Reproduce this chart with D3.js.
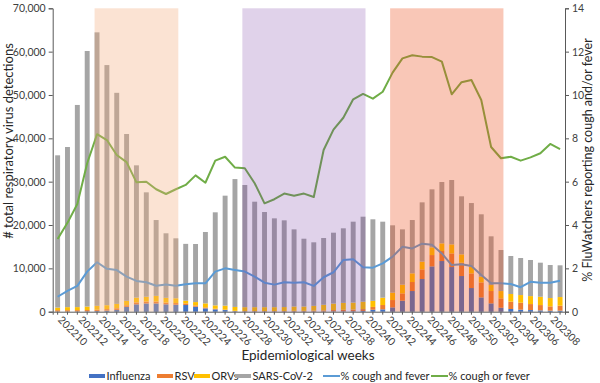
<!DOCTYPE html>
<html><head><meta charset="utf-8">
<script src="https://cdn.jsdelivr.net/npm/d3@7"></script>
<style>
body{margin:0;background:#fff;}
svg{display:block;font-family:Lato,"Open Sans",sans-serif;}
</style></head>
<body><svg id="c" width="600" height="383"></svg>
<script>
// ---------- DATA ----------
const weeks = [
 "202210","202211","202212","202213","202214","202215","202216","202217","202218","202219",
 "202220","202221","202222","202223","202224","202225","202226","202227","202228","202229",
 "202230","202231","202232","202233","202234","202235","202236","202237","202238","202239",
 "202240","202241","202242","202243","202244","202245","202246","202247","202248","202249",
 "202250","202251","202252","202301","202302","202303","202304","202305","202306","202307",
 "202308","202309"];
const tickLabels = ["202210","202212","202214","202216","202218","202220","202222","202224","202226",
 "202228","202230","202232","202234","202236","202238","202240","202242","202244","202246","202248",
 "202250","202302","202304","202306","202308"];
const influenza = [50,50,60,80,150,250,400,1100,1700,1900,1900,1700,1600,1540,1150,770,540,380,100,50,
 50,50,50,50,50,50,50,50,80,80,100,150,450,540,1000,2540,4770,7540,10460,11690,
 10300,8230,5460,3300,1920,920,620,460,380,300,230,230];
const rsv = [300,300,300,300,300,350,400,400,450,450,450,400,400,380,300,230,150,100,100,100,
 100,100,100,120,150,150,200,250,300,350,400,450,650,1000,1690,1690,2080,2230,2610,2310,
 3150,3080,3380,3460,2850,2150,1690,1610,1380,1230,1000,1150];
const orvs = [600,700,700,800,900,900,1000,1000,1100,1100,1300,1100,1100,620,770,920,770,920,900,900,
 900,900,900,900,1000,1000,1100,1300,1500,1600,1600,1700,1400,1690,1690,2000,2000,1770,1770,1770,
 2080,1920,1540,1310,1380,1690,1770,1770,1840,1920,1920,2000];
const totals = [36080,38000,47700,60150,64450,56900,50500,41000,33770,27540,21150,18090,16930,15650,15620,18390,22930,26770,30600,29230,
 25380,23000,21540,21080,19000,16840,16010,17000,18230,19240,20770,21920,21320,20770,19930,19000,21150,25230,28230,29920,
 30380,26620,25070,22470,17390,14230,12850,12390,11930,11310,10770,10700];
const coughAndFever = [0.69,0.96,1.19,1.85,2.28,1.98,1.92,1.62,1.42,1.36,1.2,1.26,1.2,1.27,1.31,1.31,1.85,2.0,1.92,1.85,
 1.62,1.34,1.25,1.36,1.34,1.36,1.19,1.59,1.82,2.39,2.42,2.05,2.03,2.23,2.54,3.0,2.92,3.14,3.09,2.69,
 2.15,2.19,2.11,1.69,1.31,1.31,1.28,1.13,1.38,1.34,1.34,1.43];
const coughOrFever = [3.35,4.1,4.97,6.85,8.19,7.92,7.23,6.9,5.97,6.0,5.65,5.43,5.65,5.85,6.29,5.95,6.97,7.15,6.65,6.62,
 5.93,5.0,5.19,5.45,5.35,5.45,5.29,7.46,8.4,8.95,9.8,10.05,9.83,10.15,11.03,11.69,11.83,11.77,11.75,11.54,
 10.03,10.59,10.69,9.77,7.6,7.08,7.15,6.97,7.12,7.31,7.74,7.5];
const sarsCov2 = totals.map((t,i)=>t-influenza[i]-rsv[i]-orvs[i]);
const seasons = [
 {from:"202214", to:"202222", color:"rgb(244,170,120)", alpha:0.33},
 {from:"202229", to:"202241", color:"rgb(112,48,160)", alpha:0.22},
 {from:"202244", to:"202303", color:"rgb(236,80,30)", alpha:0.32}];
const leftTicks = [0,10000,20000,30000,40000,50000,60000,70000];
const rightTicks = [0,2,4,6,8,10,12,14];
const barSeries = [
 {name:"Influenza", key:"influenza", color:"#4472C4"},
 {name:"RSV", key:"rsv", color:"#ED7D31"},
 {name:"ORVs", key:"orvs", color:"#FFC000"},
 {name:"SARS-CoV-2", key:"sars", color:"#A5A5A5"}];
const lineSeries = [
 {name:"% cough and fever", values:coughAndFever, color:"#5B9BD5"},
 {name:"% cough or fever", values:coughOrFever, color:"#70AD47"}];

// ---------- CHART ----------
const svg = d3.select("#c");
const L = 52.7, R = 565, T = 8.3, B = 311.7;
const x = d3.scaleBand().domain(weeks).range([L,R]).paddingInner(0.5).paddingOuter(0.25);
const yL = d3.scaleLinear().domain([0,70000]).range([B,T]);
const yR = d3.scaleLinear().domain([0,14]).range([B,T]);
const cx = w => x(w) + x.bandwidth()/2;
// label axis: the 25 printed labels are spread evenly between first and last labelled week
const xLab = d3.scalePoint().domain(tickLabels).range([cx(tickLabels[0]), cx(tickLabels[tickLabels.length-1])]);

const rows = weeks.map((w,i)=>({week:w, influenza:influenza[i], rsv:rsv[i], orvs:orvs[i], sars:sarsCov2[i]}));
const stack = d3.stack().keys(barSeries.map(s=>s.key))(rows);

const gBars = svg.append("g");
stack.forEach((layer,li)=>{
  gBars.selectAll(null).data(layer).join("rect")
    .attr("x", d=>x(d.data.week)).attr("width", x.bandwidth())
    .attr("y", d=>yL(d[1])).attr("height", d=>yL(d[0])-yL(d[1]))
    .attr("fill", barSeries[li].color);
});

lineSeries.forEach(s=>{
  svg.append("path").datum(s.values)
    .attr("fill","none").attr("stroke", s.color).attr("stroke-width",2)
    .attr("stroke-linejoin","round")
    .attr("d", d3.line().x((d,i)=>cx(weeks[i])).y(d=>yR(d)));
});

// season overlays (on top)
svg.append("g").selectAll("rect").data(seasons).join("rect")
  .attr("x", d=>x(d.from))
  .attr("width", d=>x(d.to)+x.bandwidth()-x(d.from))
  .attr("y", T).attr("height", B-T)
  .attr("fill", d=>d.color).attr("fill-opacity", d=>d.alpha);

// axes
const txt = "#404040";
const axL = svg.append("g").attr("transform",`translate(${L},0)`)
  .call(d3.axisLeft(yL).tickValues(leftTicks).tickSize(4).tickFormat(d3.format(",")));
const axR = svg.append("g").attr("transform",`translate(${R},0)`)
  .call(d3.axisRight(yR).tickValues(rightTicks).tickSize(4).tickFormat(d3.format("d")));
const axB = svg.append("g").attr("transform",`translate(0,${B})`)
  .call(d3.axisBottom(x).tickSize(3).tickFormat(""));
const axLab = svg.append("g").attr("transform",`translate(0,${B})`)
  .call(d3.axisBottom(xLab).tickSize(0).tickFormat(d=>d))
  .call(g=>g.select(".domain").remove());
[axL,axR,axB,axLab].forEach(a=>{
  a.selectAll("path.domain").attr("stroke","#595959");
  a.selectAll(".tick line").attr("stroke","#595959");
  a.selectAll("text").attr("fill",txt).style("font-size","10.5px").style("font-family","Lato, sans-serif");
});
axLab.selectAll("text")
  .attr("text-anchor","start").attr("dy",null).attr("y",null)
  .attr("transform","translate(1,7) rotate(45)")
  .attr("dominant-baseline","middle");

// titles
svg.append("text").attr("transform",`translate(13,${(T+B)/2 - 19}) rotate(-90)`)
  .attr("text-anchor","middle").attr("fill","#262626").style("font-size","13px")
  .text("# total respiratory virus detections");
svg.append("text").attr("transform",`translate(592,${(T+B)/2}) rotate(-90)`)
  .attr("text-anchor","middle").attr("fill","#262626").style("font-size","12.5px")
  .text("% FluWatchers reporting cough and/or fever");
svg.append("text").attr("x",308).attr("y",360).attr("text-anchor","middle")
  .attr("fill","#262626").style("font-size","13.5px").text("Epidemiological weeks");

// legend
const legY = 376;
const legX = [89, 157, 194, 235, 323, 431];
const items = barSeries.map(s=>({name:s.name,color:s.color,type:"bar"}))
  .concat(lineSeries.map(s=>({name:s.name,color:s.color,type:"line"})));
const lg = svg.append("g");
items.forEach((it,i)=>{
  const g = lg.append("g").attr("transform",`translate(${legX[i]},${legY})`);
  if(it.type==="bar") g.append("rect").attr("x",0).attr("y",-2).attr("width",16).attr("height",4).attr("fill",it.color);
  else g.append("line").attr("x1",0).attr("x2",17).attr("y1",0).attr("y2",0).attr("stroke",it.color).attr("stroke-width",2);
  g.append("text").attr("x",17.5).attr("y",0).attr("dy","0.35em").attr("fill","#262626")
   .style("font-size","11px").text(it.name);
});
</script></body></html>
